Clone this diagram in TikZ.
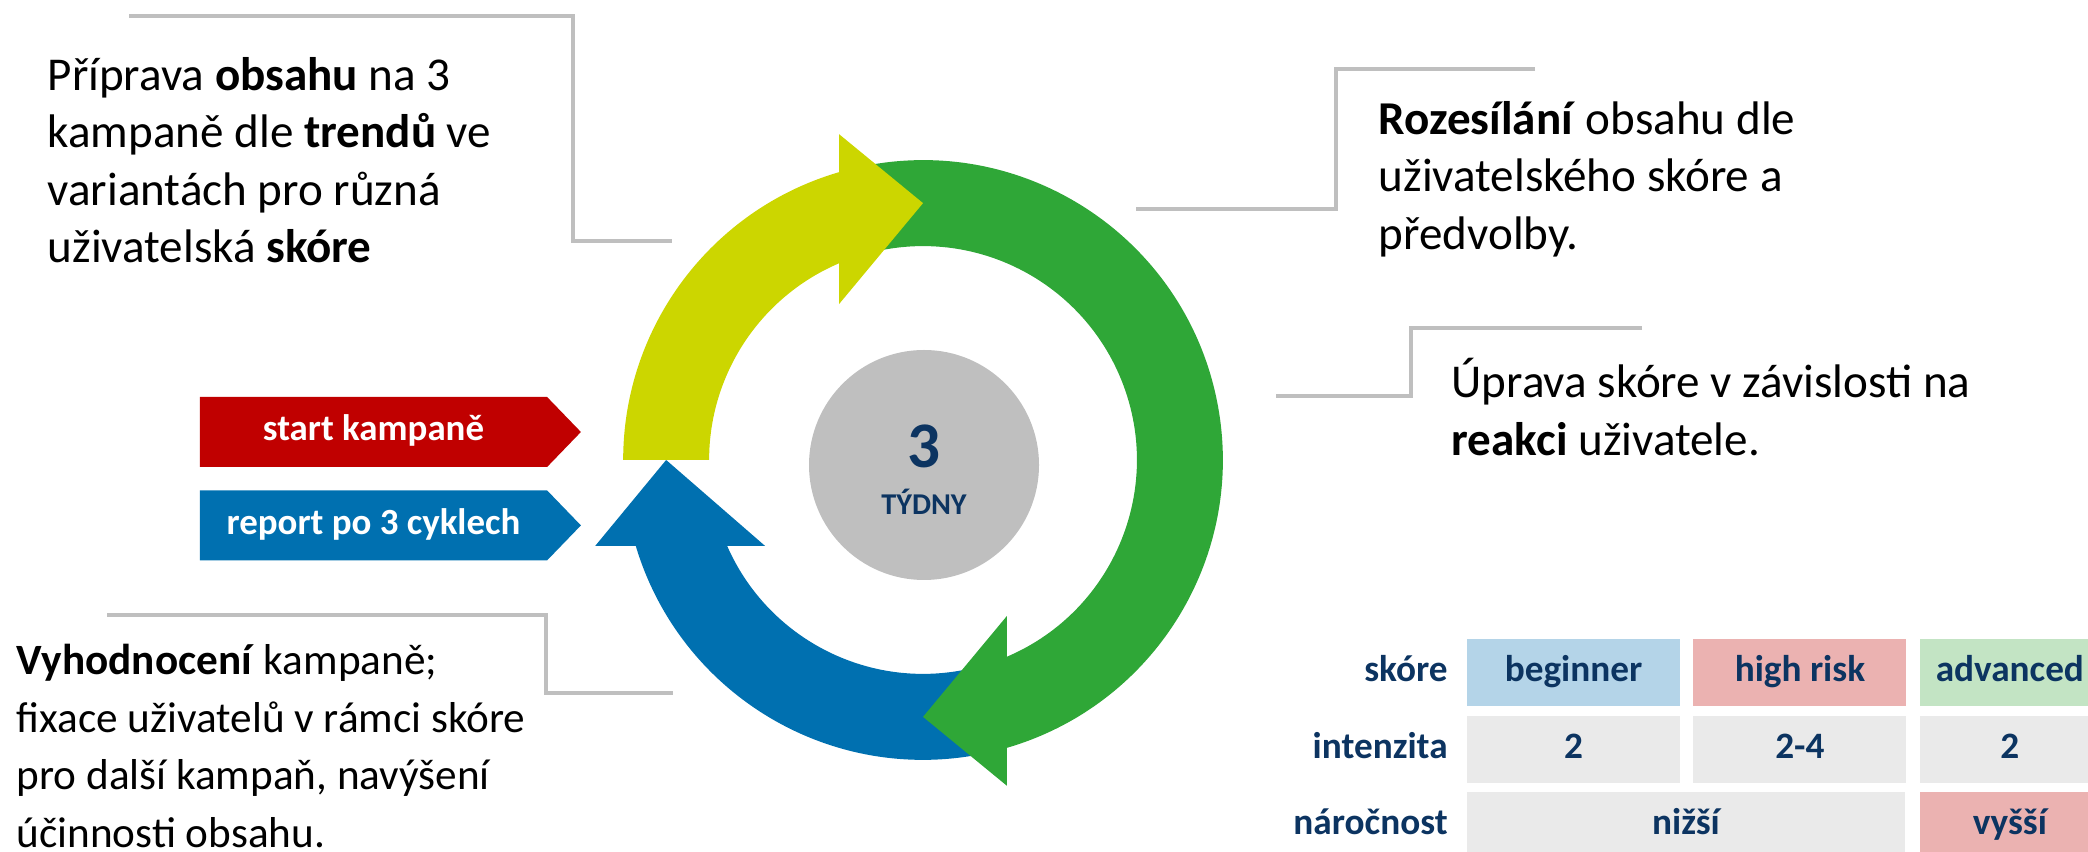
\documentclass[tikz,border=0pt]{standalone}
\usepackage{fontspec}
\setmainfont{Carlito}
\usepackage{xcolor}
\usepackage{tikz}
\usetikzlibrary{shapes,arrows.meta,positioning,calc}

\definecolor{cyclelime}{RGB}{204,214,0}
\definecolor{cyclegreen}{RGB}{47,167,55}
\definecolor{cycleblue}{RGB}{0,112,176}
\definecolor{tagred}{RGB}{192,0,0}
\definecolor{navytext}{RGB}{12,52,97}
\definecolor{leadergray}{RGB}{191,191,191}
\definecolor{hubgray}{RGB}{191,191,191}
\definecolor{cellgray}{RGB}{234,234,234}
\definecolor{cellblue}{RGB}{180,212,232}
\definecolor{cellpink}{RGB}{235,178,177}
\definecolor{cellgreen}{RGB}{195,228,196}

\begin{document}
\begin{tikzpicture}[
    node distance=0.08cm and 0.12cm,
    note/.style={anchor=base west, align=left, inner sep=0, font=\fontsize{13.4}{16.36}\selectfont},
    leader/.style={draw=leadergray, line width=1.1pt},
    tag/.style={signal, signal to=east, signal pointer angle=92, fill=#1, text=white, font=\fontsize{10.5}{12}\selectfont\bfseries, minimum width=3.81cm, minimum height=0.70cm, inner sep=0, text height=7.5pt, text depth=2.5pt},
    cell/.style={rectangle, fill=#1, text=navytext, font=\fontsize{10.6}{12}\selectfont\bfseries, minimum width=2.13cm, minimum height=0.67cm, inner sep=0, text height=7.5pt, text depth=2.5pt},
    rowlabel/.style={text=navytext, font=\fontsize{10.6}{12}\selectfont\bfseries, inner sep=0, text height=7.5pt, text depth=2.5pt},
    hubtext/.style={anchor=base, text=navytext, inner sep=0}
]
    \useasboundingbox (0,0) rectangle (20.88,8.52);

    % Cycle arrows
    \begin{scope}[shift={(9.23,3.92)}, scale=0.01]
        \fill[cycleblue] (-79:300) arc[start angle=-79, end angle=-163.34, radius=300] -- (-328,-86) -- (-257,0) -- (-158,-86) -- (-156.30:214) arc[start angle=-156.30, end angle=-79, radius=214] -- cycle;
        \fill[cyclegreen] (101:300) arc[start angle=101, end angle=-73.74, radius=300] -- (84,-326) -- (0,-257) -- (84,-156) -- (-66.89:214) arc[start angle=-66.89, end angle=101, radius=214] -- cycle;
        \fill[cyclelime] (180:300) arc[start angle=180, end angle=106.26, radius=300] -- (-84,326) -- (0,257) -- (-84,156) -- (113.11:214) arc[start angle=113.11, end angle=180, radius=214] -- cycle;
    \end{scope}

    % Hub
    \node [circle, fill=hubgray, minimum size=2.30cm, inner sep=0] (hub) at (9.24,3.87) {};
    \node [hubtext, font=\fontsize{18.5}{20}\selectfont\bfseries] (weeks) at (9.24,3.84) {3};
    \node [hubtext, font=\fontsize{8.6}{10}\selectfont\bfseries] (unit) at (9.24,3.37) {TÝDNY};

    % Notes (anchored at the baseline of their last line)
    \node [note] (prep) at (0.47,5.89) {Příprava \textbf{obsahu} na 3\\kampaně dle \textbf{trendů} ve\\variantách pro různá\\uživatelská \textbf{skóre}};
    \node [note] (send) at (13.78,6.025) {\textbf{Rozesílání} obsahu dle\\uživatelského skóre a\\předvolby.};
    \node [note] (adjust) at (14.51,3.965) {Úprava skóre v závislosti na\\\textbf{reakci} uživatele.};
    \node [note, font=\fontsize{12.3}{16.36}\selectfont] (eval) at (0.16,0.05) {\textbf{Vyhodnocení} kampaně;\\fixace uživatelů v rámci skóre\\pro další kampaň, navýšení\\účinnosti obsahu.};

    % Leaders
    \coordinate (prep-a) at (1.29,8.36);
    \coordinate (prep-b) at (5.73,6.11);
    \coordinate (send-a) at (15.35,7.83);
    \coordinate (send-b) at (13.36,6.43);
    \coordinate (adjust-a) at (16.42,5.24);
    \coordinate (adjust-b) at (14.11,4.56);
    \coordinate (eval-a) at (1.07,2.37);
    \coordinate (eval-b) at (5.46,1.59);
    \draw [leader] (prep-a) -| (prep-b) -- ++(0.99,0);
    \draw [leader] (send-a) -| (send-b) -- ++(-2.00,0);
    \draw [leader] (adjust-a) -| (adjust-b) -- ++(-1.35,0);
    \draw [leader] (eval-a) -| (eval-b) -- ++(1.27,0);

    % Tags
    \node [tag=tagred] (start) at (3.735,4.20) {start kampaně};
    \node [tag=cycleblue, below=0.22cm of start] (report) {report po 3 cyklech};

    % Table
    \node [cell=cellblue] (beginner) at (15.735,1.79) {beginner};
    \node [cell=cellpink, right=of beginner] (highrisk) {high risk};
    \node [cell=cellgreen, minimum width=1.80cm, right=of highrisk] (advanced) {advanced};
    \node [cell=cellgray, below=of beginner] (int-beginner) {2};
    \node [cell=cellgray, below=of highrisk] (int-highrisk) {2-4};
    \node [cell=cellgray, minimum width=1.80cm, below=of advanced] (int-advanced) {2};
    \node [cell=cellgray, minimum width=4.38cm, anchor=north west] (lower) at ([yshift=-0.08cm]int-beginner.south west) {nižší};
    \node [cell=cellpink, minimum width=1.80cm, below=of int-advanced] (higher) {vyšší};
    \node [rowlabel, left=0.18cm of beginner] (score) {skóre};
    \node [rowlabel, left=0.18cm of int-beginner] (intensity) {intenzita};
    \node [rowlabel, anchor=east] (demand) at (lower.west -| intensity.east) {náročnost};
\end{tikzpicture}
\end{document}
